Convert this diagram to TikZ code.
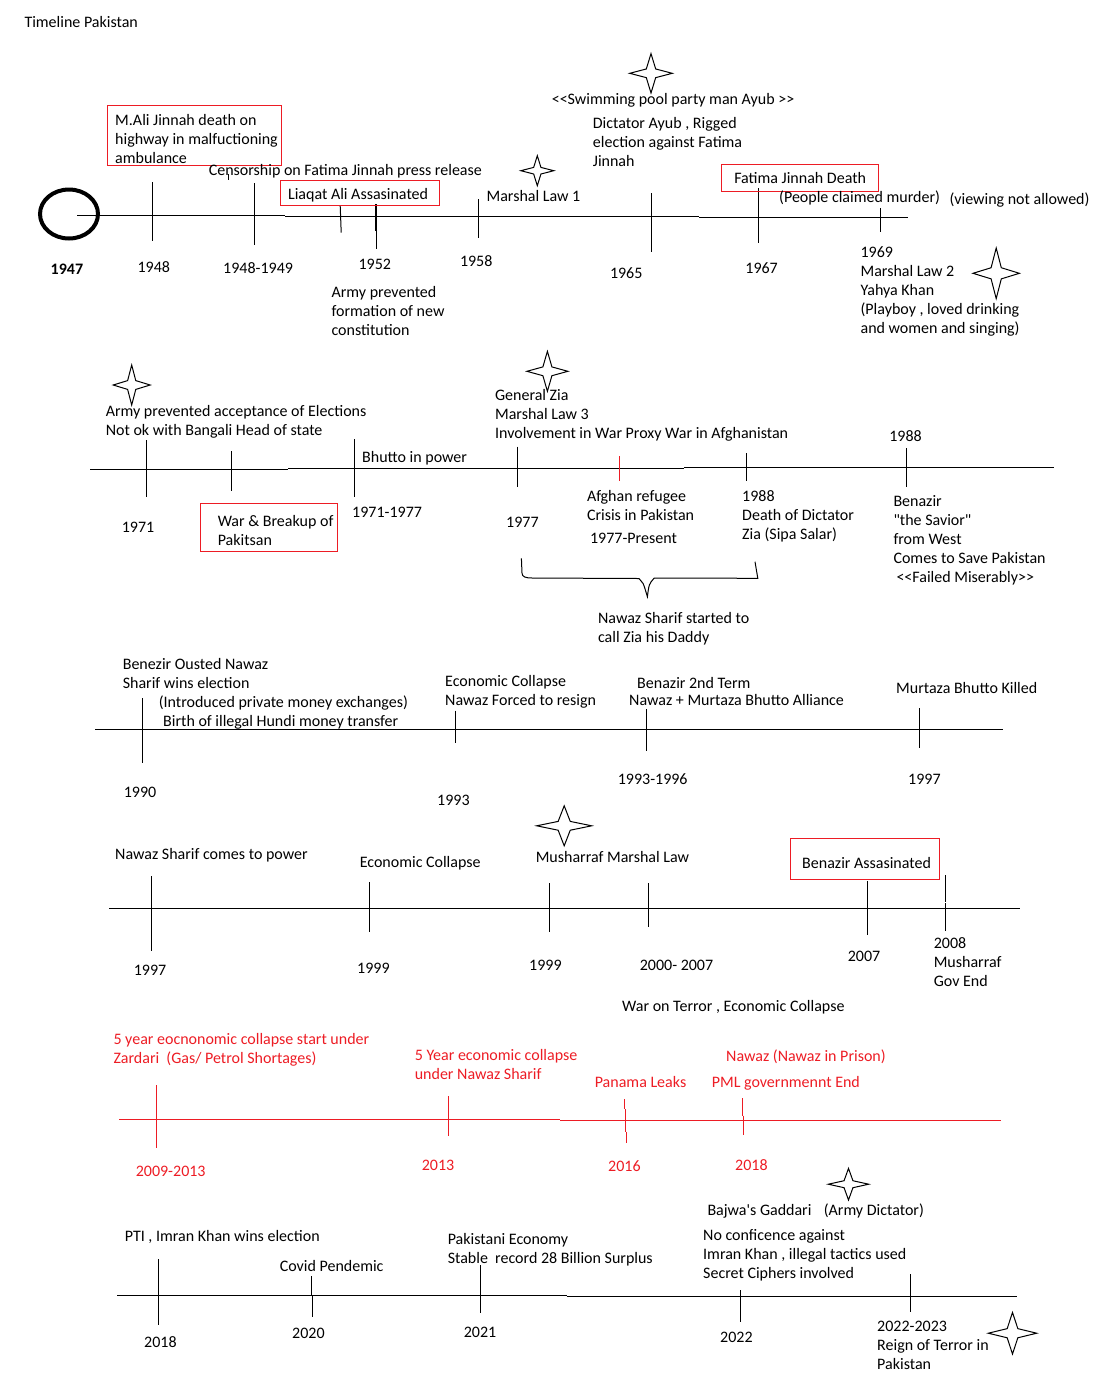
\documentclass[tikz,border=0pt]{standalone}
\usepackage{fontspec}
\setmainfont{Carlito}
\definecolor{paintred}{RGB}{237,28,36}
\tikzset{
  sparkle/.pic={\draw (0,-1) -- (0.22,-0.22) -- (1,0) -- (0.22,0.22) -- (0,1) -- (-0.22,0.22) -- (-1,0) -- (-0.22,-0.22) -- cycle;},
  redbox/.style={draw=paintred},
  redtext/.style={text=paintred}
}

\begin{document}
\begin{tikzpicture}[x=0.75pt, y=-0.75pt, line width=0.75pt,
    every node/.style={font=\fontsize{12}{14.25}\selectfont, inner sep=0pt, anchor=base west, align=left}]

    \useasboundingbox (0,0) rectangle (1095,1379);

    % Title
    \node (title) at (24,27) {Timeline Pakistan};

    %%%%%%%%%%%%%%%% 1947 - 1969 %%%%%%%%%%%%%%%%

    % Circle for 1947
    \draw[line width=3pt] (69,214) ellipse [x radius=29, y radius=24.5];

    % axis
    \draw (77,215.3) -- (285,215.3);
    \draw (285,216.3) -- (699,216.3);
    \draw (699,217.3) -- (908,217.3);

    % 1947
    \node[font=\fontsize{12}{14.25}\selectfont\bfseries] (y1947) at (50.2,274.3) {1947};

    % 1948
    \draw (152.2,182) -- (152.2,240.7);
    \node (y1948) at (137.1,272) {1948};
    \draw[redbox] (107.3,105.7) rectangle (281.3,165.3);
    \node (jinnah) at (114.7,163) {M.Ali Jinnah death on\\highway in malfuctioning\\ambulance};

    % 1948-1949
    \draw (254.3,183) -- (254.3,245);
    \draw (228.3,174.3) -- (228.3,180);
    \node (y1948b) at (222.7,273.7) {1948-1949};
    \node (censor) at (208.3,175.3) {Censorship on Fatima Jinnah press release};

    % 1952
    \draw (340.2,205.7) -- (341.2,232.7);
    \draw[line width=1.9pt] (376,204) -- (376,231);
    \draw (376,231) -- (376,249.3);
    \draw[redbox] (280,180.7) rectangle (439.1,205.3);
    \node (liaqat) at (287.6,199) {Liaqat Ali Assasinated};
    \node (y1952) at (358.1,269.3) {1952};
    \node (army52) at (331.1,335.3) {Army prevented\\formation of new\\constitution};

    % 1958
    \draw (478.4,199.3) -- (478.4,238);
    \pic[xscale=16.5, yscale=15] at (537.3,170.7) {sparkle};
    \node (ml1) at (486.1,201) {Marshal Law 1};
    \node (y1958) at (459.5,266) {1958};

    % 1965
    \draw (651,193.3) -- (651,251.7);
    \pic[xscale=21.3, yscale=19.7] at (651,73.3) {sparkle};
    \node (swim) at (551.3,104.3) {<{}<Swimming pool party man Ayub >{}>};
    \node (ayub) at (592.4,166) {Dictator Ayub , Rigged\\election against Fatima\\Jinnah};
    \node (y1965) at (609.5,278) {1965};

    % 1967
    \draw (758.9,188.3) -- (758.9,242.7);
    \draw[redbox] (721.7,164.3) rectangle (878.3,191.3);
    \node (fatima) at (733.8,183) {Fatima Jinnah Death};
    \node (murder) at (778.7,202) {(People claimed murder)};
    \node (viewing) at (949,204) {(viewing not allowed)};
    \node (y1967) at (744.9,273.3) {1967};

    % 1969
    \draw (880.2,208.3) -- (880.2,231.7);
    \node (y1969) at (860.1,333) {1969\\Marshal Law 2\\Yahya Khan\\(Playboy , loved drinking\\and women and singing)};
    \pic[xscale=23.2, yscale=25.3] at (996.2,273.3) {sparkle};

    %%%%%%%%%%%%%%%% 1971 - 1988 %%%%%%%%%%%%%%%%

    % axis
    \draw (90,469) -- (288,469);
    \draw (288,468) -- (684,468);
    \draw (684,467) -- (1053.6,467);

    % 1971
    \draw (146.7,440) -- (146.7,496.7);
    \pic[xscale=18.5, yscale=20] at (131.7,385) {sparkle};
    \node (elections) at (105.3,435.3) {Army prevented acceptance of Elections\\Not ok with Bangali Head of state};
    \node (y1971) at (121.3,532) {1971};

    % breakup
    \draw (231.7,451) -- (231.7,490.7);
    \draw[redbox] (200.3,503.3) rectangle (337.3,551);
    \node (breakup) at (217.3,545) {War \& Breakup of\\Pakitsan};

    % 1971-1977
    \draw (354.3,439) -- (354.3,496.7);
    \node (bhutto) at (361.7,462.3) {Bhutto in power};
    \node (y1971b) at (351.7,517) {1971-1977};

    % 1977
    \draw (517.3,446.7) -- (517.3,486.7);
    \pic[xscale=20.5, yscale=20] at (547.4,371.3) {sparkle};
    \node (zia) at (494.6,438) {General Zia\\Marshal Law 3\\Involvement in War Proxy War in Afghanistan};
    \node (y1977) at (505.7,527.3) {1977};

    % refugees
    \draw[paintred] (619.5,456) -- (619.5,480.7);
    \node (afghan) at (586.5,520.3) {Afghan refugee\\Crisis in Pakistan};
    \node (present) at (589.6,543) {1977-Present};

    % 1988 zia
    \draw (746.7,453) -- (746.7,481.3);
    \node (ziadeath) at (741.7,539) {1988\\Death of Dictator\\Zia (Sipa Salar)};

    % brace
    \draw (521.4,558.3) -- (522,573) .. controls (522,577) and (526,578) .. (532,578)
        -- (639,578.5) .. controls (643,582) .. (647.4,596.7)
        .. controls (649,584) .. (654.3,578) -- (757.8,578.3) -- (755,561.7);
    \node (daddy) at (597.6,642.3) {Nawaz Sharif started to\\call Zia his Daddy};

    % 1988 benazir
    \draw (906,448.3) -- (906,486.7);
    \node (y1988) at (888.8,441.3) {1988};
    \node (savior) at (893,582.3) {Benazir\\\textquotedbl the Savior\textquotedbl\\from West\\Comes to Save Pakistan\\\hspace*{2.25pt}<{}<Failed Miserably>{}>};

    %%%%%%%%%%%%%%%% 1990 - 1997 %%%%%%%%%%%%%%%%

    % axis
    \draw (95,729.3) -- (1002.7,729.3);

    % 1990
    \draw (142.3,698.3) -- (142.3,763.3);
    \node (ousted) at (122.3,688.3) {Benezir Ousted Nawaz\\Sharif wins election};
    \node (exchanges) at (158.3,707.7) {(Introduced private money exchanges)};
    \node (hundi) at (162.7,726.3) {Birth of illegal Hundi money transfer};
    \node (y1990) at (123.3,797.3) {1990};

    % 1993
    \draw (455.7,710.7) -- (455.7,742.7);
    \node (resign) at (444.7,705.7) {Economic Collapse\\Nawaz Forced to resign};
    \node (y1993) at (436.7,805.3) {1993};

    % 1993-1996
    \draw (646.7,709.3) -- (646.7,750.7);
    \node (term2) at (636.7,688.3) {Benazir 2nd Term};
    \node (alliance) at (628.7,705.3) {Nawaz + Murtaza Bhutto Alliance};
    \node (y1993b) at (617.3,784) {1993-1996};

    % 1997
    \draw (919.3,708.3) -- (919.3,747.7);
    \node (murtaza) at (895.7,693.3) {Murtaza Bhutto Killed};
    \node (y1997) at (907.7,784) {1997};

    %%%%%%%%%%%%%%%% 1997 - 2008 %%%%%%%%%%%%%%%%

    % axis
    \draw (109,908.3) -- (1020,908.3);

    % 1997
    \draw (151.3,876.3) -- (151.3,950.7);
    \node (power) at (114.7,859) {Nawaz Sharif comes to power};
    \node (y1997b) at (133.3,975) {1997};

    % 1999
    \draw (369.3,882) -- (369.3,931.7);
    \node (collapse99) at (359.3,867.7) {Economic Collapse};
    \node (y1999) at (356.7,973.3) {1999};

    % 1999 musharraf
    \draw (549.7,883) -- (549.7,931.7);
    \pic[xscale=27.5, yscale=20] at (564.2,825.8) {sparkle};
    \node (musharraf) at (535.3,862.3) {Musharraf Marshal Law};
    \node (y1999b) at (528.7,970) {1999};

    % 2000-2007
    \draw (648.3,883) -- (648.3,926.7);
    \node (y2000) at (639.3,970) {2000- 2007};
    \node (terror) at (621.7,1011.7) {War on Terror , Economic Collapse};

    % 2007
    \draw (867.3,881) -- (867.3,934.7);
    \draw[redbox] (790.3,838.3) rectangle (939.3,879.3);
    \node (benazir) at (801.7,868) {Benazir Assasinated};
    \node (y2007) at (847.3,961.7) {2007};

    % 2008
    \draw (945.7,875.3) -- (945.7,902.3);
    \draw (945,903.3) -- (945,930.7);
    \node (y2008) at (933.3,986.3) {2008\\Musharraf\\Gov End};

    %%%%%%%%%%%%%%%% 2009 - 2018 %%%%%%%%%%%%%%%%

    % axis
    \draw[paintred] (119.3,1119) -- (560,1119);
    \draw[paintred] (560,1120) -- (1000.7,1120);

    % 2009-2013
    \draw[paintred] (156.7,1085) -- (156.7,1148.3);
    \node[redtext] (zardari) at (113,1063.3) {5 year eocnonomic collapse start under\\Zardari\ \ (Gas/ Petrol Shortages)};
    \node[redtext] (y2009) at (135.3,1176.7) {2009-2013};

    % 2013
    \draw[paintred] (448.3,1096) -- (448.3,1135.7);
    \node[redtext] (nawaz5) at (414.3,1079.3) {5 Year economic collapse\\under Nawaz Sharif};
    \node[redtext] (y2013) at (421.3,1170) {2013};

    % 2016
    \draw[paintred] (624.3,1099) -- (624.3,1109.3);
    \draw[paintred] (625.3,1109.3) -- (625.3,1131.7);
    \draw[paintred] (626.3,1131.7) -- (626.3,1142.7);
    \node[redtext] (panama) at (594.3,1087.3) {Panama Leaks};
    \node[redtext] (y2016) at (607.7,1171.7) {2016};

    % 2018
    \draw[paintred] (742.3,1098) -- (742.3,1115.7);
    \draw[paintred] (743.3,1115.7) -- (743.3,1134.7);
    \node[redtext] (prison) at (725.7,1061) {Nawaz (Nawaz in Prison)};
    \node[redtext] (pml) at (711.3,1087.3) {PML governmennt End};
    \node[redtext] (y2018) at (734.7,1170.7) {2018};

    %%%%%%%%%%%%%%%% 2018 - 2023 %%%%%%%%%%%%%%%%

    % axis
    \draw (117,1295.3) -- (566.7,1295.3);
    \draw (566.7,1296.3) -- (1016.7,1296.3);

    % 2018
    \draw (158.3,1259) -- (158.3,1325);
    \node (pti) at (124.3,1241.3) {PTI , Imran Khan wins election};
    \node (y2018b) at (143.7,1347.3) {2018};

    % 2020
    \draw (311.7,1276) -- (311.7,1296);
    \draw (312.3,1296) -- (312.3,1316.7);
    \node (covid) at (279.3,1271.3) {Covid Pendemic};
    \node (y2020) at (291.7,1338) {2020};

    % 2021
    \draw (480.3,1265) -- (480.3,1312.7);
    \node (economy) at (447.3,1263.7) {Pakistani Economy\\Stable\ \ record 28 Billion Surplus};
    \node (y2021) at (463.3,1337.3) {2021};

    % 2022
    \draw (740.3,1290) -- (740.3,1321.7);
    \pic[xscale=20.2, yscale=15.8] at (848.5,1184.2) {sparkle};
    \node (bajwa) at (707,1215) {Bajwa\textquotesingle s Gaddari};
    \node (dictator) at (823.3,1215) {(Army Dictator)};
    \node (noconf) at (702.7,1278.7) {No conficence against\\Imran Khan , illegal tactics used\\Secret Ciphers involved};
    \node (y2022) at (719.7,1342) {2022};

    % 2022-2023
    \draw (910.7,1274) -- (910.7,1311.7);
    \node (reign) at (876.7,1369.7) {2022-2023\\Reign of Terror in\\Pakistan};
    \pic[xscale=24.2, yscale=20.8] at (1012.5,1333.2) {sparkle};

\end{tikzpicture}
\end{document}
